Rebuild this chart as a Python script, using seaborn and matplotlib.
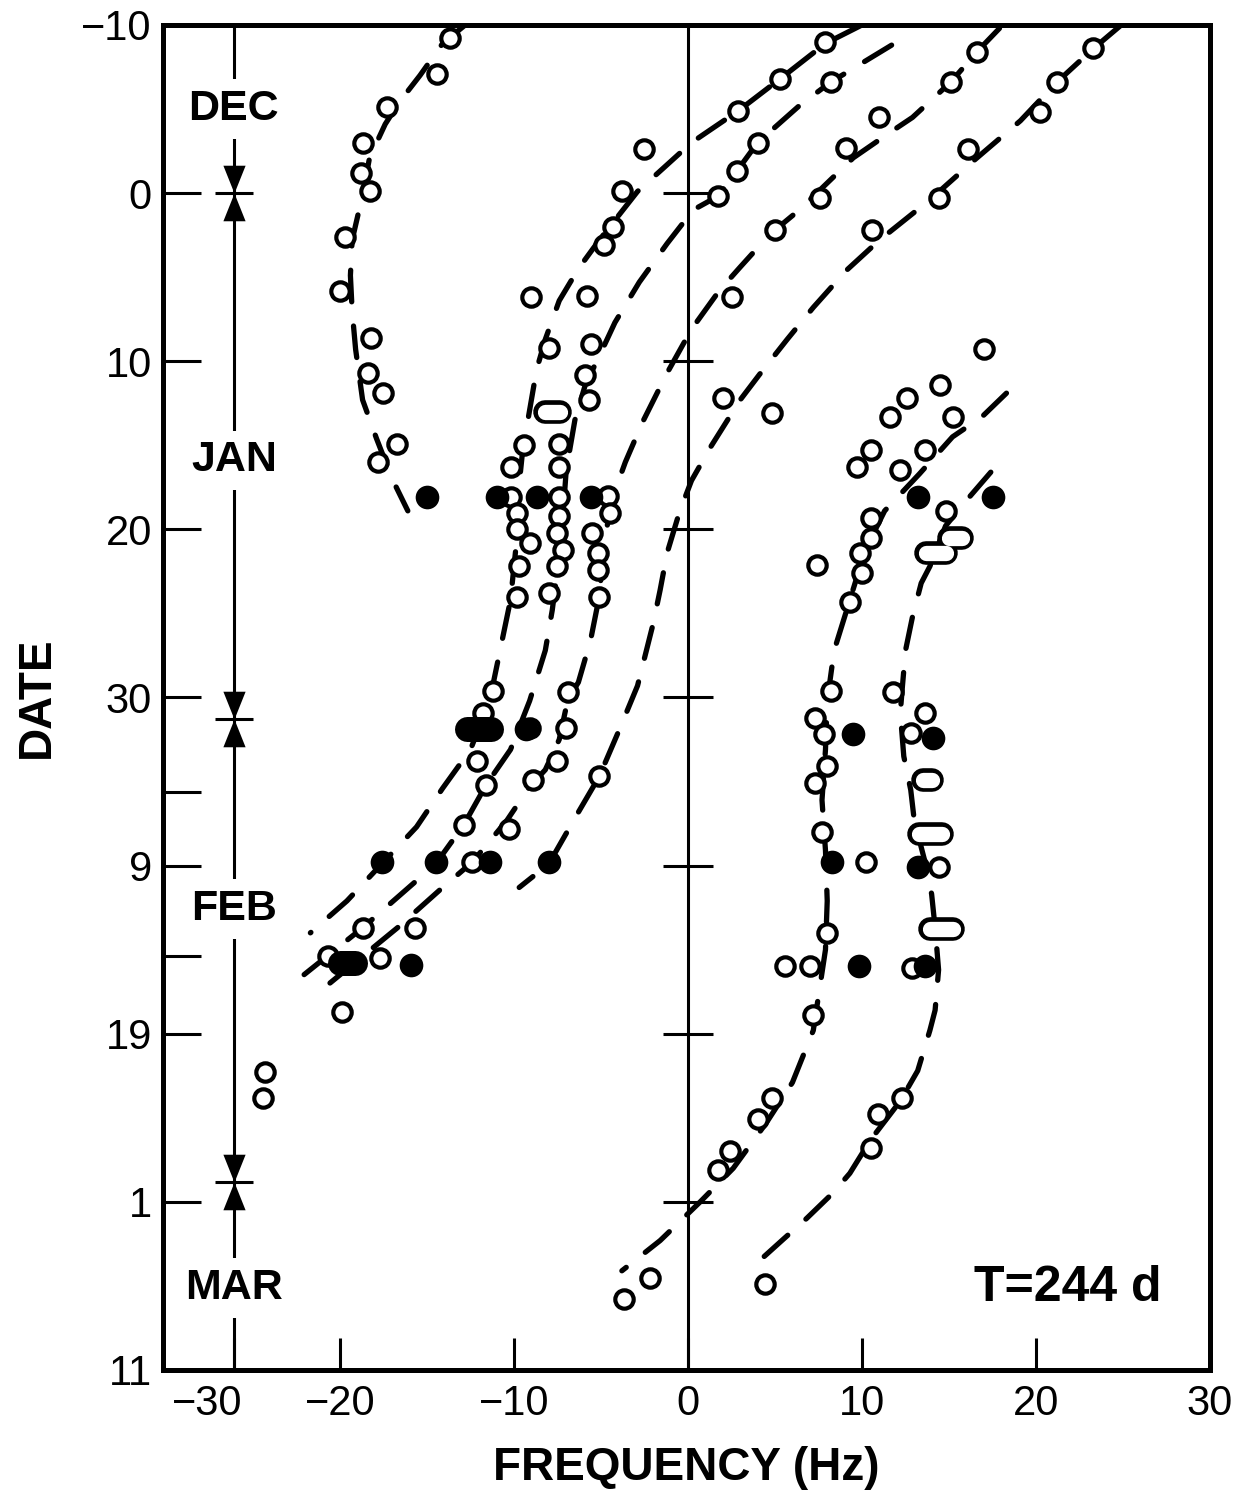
import numpy as np
import pandas as pd
import matplotlib
matplotlib.use("Agg")
import matplotlib.pyplot as plt
import matplotlib.transforms as mtransforms
from matplotlib.path import Path
import seaborn as sns

# ---------------------------------------------------------------------------
# Observations: frequency offset (Hz) versus day (day 0 = Dec 31)
# ---------------------------------------------------------------------------
OPEN_FREQ = [
    # early-winter branch
    -13.7, -14.4, -17.3, -18.7, -18.8, -18.3, -19.7, -20.0, -18.2, -18.4, -17.5, -16.7, -17.8,
    # December tracks right of zero
    7.9, 5.3, 2.9, 8.2, 4.0, 2.8, 1.7, 16.6, 15.1, 11.0, 9.1, 7.6, 5.0, 2.5,
    23.3, 21.2, 20.2, 16.1, 14.4, 10.6,
    # January cluster left of zero
    -2.5, -3.8, -4.3, -4.8, -9.0, -5.8, -8.0, -5.6, -5.9, -5.7, -9.4, -7.4, -10.2, -7.4,
    -10.2, -7.4, -4.6, -4.5, -9.8, -7.4, -9.8, -9.1, -7.5, -7.2, -9.7, -7.5, -9.8, -8.0,
    -5.5, -5.2, -5.2, -5.1,
    # January right of zero
    2.0, 4.8, 17.0, 14.5, 12.6, 11.6, 15.2, 10.5, 13.6, 9.7, 12.2, 14.8, 10.5, 10.5,
    9.9, 10.0, 9.3, 7.4,
    # February right of zero
    8.2, 11.8, 13.6, 12.8, 7.3, 7.8, 8.0, 7.3, 7.7, 10.2, 14.4, 8.0, 5.6, 7.0, 12.9, 7.2,
    # February left of zero
    -11.2, -11.8, -12.1, -11.6, -12.9, -10.3, -12.4, -18.7, -15.7, -20.7, -17.7, -19.9,
    -6.9, -9.1, -7.0, -7.5, -8.9, -5.1,
    # late February / March
    -24.3, -24.4, 4.8, 4.0, 2.4, 1.7, -2.2, -3.7, 4.4, 12.3, 10.9, 10.5,
]
OPEN_DAY = [
    -9.2, -7.1, -5.1, -3.0, -1.2, -0.1, 2.6, 5.8, 8.6, 10.7, 11.9, 14.9, 16.0,
    -9.0, -6.8, -4.9, -6.6, -3.0, -1.3, 0.2, -8.4, -6.6, -4.5, -2.7, 0.3, 2.2, 6.2,
    -8.6, -6.6, -4.8, -2.6, 0.3, 2.2,
    -2.6, -0.1, 2.0, 3.1, 6.2, 6.1, 9.2, 9.0, 10.8, 12.3, 15.0, 14.9, 16.3, 16.3,
    18.1, 18.1, 18.0, 19.0, 19.0, 19.2, 20.0, 20.8, 20.2, 21.2, 22.2, 22.2, 24.0, 23.8,
    20.2, 21.4, 22.4, 24.0,
    12.2, 13.1, 9.3, 11.4, 12.2, 13.3, 13.3, 15.3, 15.3, 16.3, 16.5, 18.9, 19.3, 20.5,
    21.4, 22.6, 24.3, 22.1,
    29.6, 29.7, 30.9, 32.1, 31.2, 32.2, 34.1, 35.1, 38.0, 39.8, 40.1, 44.0, 46.0, 46.0, 46.1, 48.9,
    29.6, 30.9, 33.8, 35.2, 37.6, 37.8, 39.8, 43.7, 43.7, 45.4, 45.5, 48.7,
    29.7, 31.8, 31.8, 33.8, 34.9, 34.7,
    52.3, 53.8, 53.8, 55.1, 57.0, 58.1, 64.5, 65.8, 64.9, 53.8, 54.8, 56.8,
]

FILLED_FREQ = [-15.0, -11.0, -8.7, -5.6, 13.2, 17.5, 9.5, 14.1, -9.3,
               -17.6, -14.5, -11.4, -8.0, 8.3, 13.2, -15.9, 9.8, 13.6]
FILLED_DAY = [18.1, 18.1, 18.1, 18.1, 18.1, 18.1, 32.2, 32.4, 31.9,
              39.8, 39.8, 39.8, 39.8, 39.8, 40.1, 45.9, 46.0, 46.0]

# Smeared detections: day with lowest / highest frequency of the streak
OPEN_BAR_DAY = [13.0, 20.5, 21.4, 34.9, 38.1, 43.8]
OPEN_BAR_LO = [-8.9, 14.3, 13.0, 12.8, 12.6, 13.2]
OPEN_BAR_HI = [-6.7, 16.4, 15.5, 14.7, 15.3, 15.9]
FILLED_BAR_DAY = [31.9, 45.8]
FILLED_BAR_LO = [-13.4, -20.7]
FILLED_BAR_HI = [-10.6, -18.4]

# ---------------------------------------------------------------------------
# Model tracks (dashed)
# ---------------------------------------------------------------------------
TRACK_A_FREQ = [-12.8, -14.1, -15.4, -16.6, -17.4, -18.3, -18.7, -19.3, -19.4, -19.3,
                -19.1, -18.7, -17.9, -17.0, -16.1]
TRACK_A_DAY = [-10.0, -8.9, -7.0, -5.4, -4.1, -2.1, 0.1, 2.8, 4.9, 7.0,
               9.3, 12.3, 14.6, 17.0, 18.9]

TRACK_B_FREQ = [10.0, 7.9, 5.3, 2.9, 0.2, -1.4, -2.9, -5.1, -6.3, -7.4, -8.2, -8.7, -9.1,
                -9.5, -9.8, -9.9, -10.2, -10.8, -11.4, -12.5, -14.1, -15.6, -17.6, -19.6, -21.7]
TRACK_B_DAY = [-10.0, -8.9, -6.8, -4.9, -3.0, -1.5, -0.1, 2.8, 4.5, 6.4, 8.7, 10.5, 12.9,
               15.3, 18.3, 21.2, 24.2, 27.2, 30.2, 33.1, 35.4, 37.7, 39.9, 42.1, 44.0]

TRACK_C_FREQ = [11.7, 8.2, 6.4, 4.0, 2.8, 1.7, 0.3, -1.2, -2.8, -4.2, -5.1, -5.9, -6.5,
                -7.0, -7.2, -7.5, -7.8, -8.2, -9.1, -10.2, -11.6, -12.9, -14.5, -16.6,
                -18.7, -22.2]
TRACK_C_DAY = [-8.8, -6.6, -5.2, -3.0, -1.3, 0.2, 1.0, 3.0, 5.3, 7.7, 9.7, 11.4, 13.5,
               16.5, 19.4, 22.4, 24.8, 27.2, 30.2, 33.1, 35.2, 37.6, 39.9, 41.8, 43.7, 46.6]

TRACK_D_FREQ = [17.9, 16.6, 15.1, 12.9, 11.6, 9.5, 8.2, 6.4, 5.0, 3.7, 3.0, 1.8, 0.2,
                -1.2, -2.6, -3.6, -4.3, -4.8, -5.1, -5.6, -6.3, -6.9, -7.4, -8.2, -9.1,
                -10.4, -12.4, -14.1, -16.7, -21.3]
TRACK_D_DAY = [-9.8, -8.4, -6.6, -4.5, -3.6, -2.1, -0.8, 1.0, 2.2, 3.6, 4.4, 5.8, 8.1,
               10.7, 13.6, 16.0, 18.0, 20.6, 24.0, 26.6, 29.1, 30.1, 32.5, 34.3, 35.3,
               37.3, 39.8, 41.3, 43.7, 47.6]

TRACK_E_FREQ = [24.9, 23.3, 21.2, 19.1, 16.5, 13.9, 11.0, 9.1, 7.2, 5.7, 4.1, 3.0, 1.3,
                0.2, -0.5, -1.2, -1.6, -2.0, -2.9, -3.9, -5.1, -6.4, -8.0, -9.7]
TRACK_E_DAY = [-10.0, -8.6, -6.6, -4.3, -2.0, 0.4, 2.8, 4.6, 6.8, 8.7, 10.8, 12.3, 15.1,
               17.1, 19.0, 21.4, 23.6, 25.6, 29.3, 31.8, 34.7, 37.0, 39.9, 41.3]

TRACK_F_FREQ = [18.3, 16.9, 15.2, 13.3, 11.3, 10.2, 9.3, 8.4, 8.0, 7.9, 7.7, 7.9, 8.0,
                7.9, 7.2, 6.0, 4.5, 2.6, 0.7, -1.6, -3.8]
TRACK_F_DAY = [11.9, 13.3, 14.5, 16.7, 18.9, 21.2, 24.2, 27.2, 30.2, 33.1, 36.1, 39.1,
               42.1, 45.0, 49.8, 52.9, 55.3, 58.0, 60.0, 62.3, 64.1]

TRACK_G_FREQ = [17.4, 15.9, 14.8, 13.9, 13.4, 12.9, 12.5, 12.3, 12.2, 12.4, 12.8, 13.0,
                13.6, 14.0, 14.2, 14.4, 14.2, 13.9, 13.2, 12.2, 10.5, 9.3, 8.3, 6.8, 5.5, 4.0]
TRACK_G_DAY = [16.6, 18.4, 19.8, 22.2, 23.2, 25.2, 27.2, 29.6, 30.9, 33.5, 35.5, 37.3,
               39.7, 41.7, 43.7, 46.2, 48.6, 49.8, 52.2, 54.0, 56.3, 58.3, 59.5, 61.0,
               62.2, 63.6]

TRACKS = {
    "A": (TRACK_A_FREQ, TRACK_A_DAY),
    "B": (TRACK_B_FREQ, TRACK_B_DAY),
    "C": (TRACK_C_FREQ, TRACK_C_DAY),
    "D": (TRACK_D_FREQ, TRACK_D_DAY),
    "E": (TRACK_E_FREQ, TRACK_E_DAY),
    "F": (TRACK_F_FREQ, TRACK_F_DAY),
    "G": (TRACK_G_FREQ, TRACK_G_DAY),
}

# Axis annotation
YTICK_DAY = [-10, 0, 10, 20, 30, 40, 50, 60, 70]
YTICK_LABEL = ["\u221210", "0", "10", "20", "30", "9", "19", "1", "11"]
YMINOR_DAY = [35.6, 45.4]
XTICK_POS = [-26.1, -20, -10, 0, 10, 20, 30]
XTICK_LABEL = ["\u221230", "\u221220", "\u221210", "0", "10", "20", "30"]
CENTER_TICK_DAY = [0, 10, 20, 30, 40, 50, 60]
MONTHS = ["DEC", "JAN", "FEB", "MAR"]
MONTH_LABEL_DAY = [-5.0, 15.9, 42.6, 65.1]
MONTH_BOUNDARY_DAY = [0.0, 31.3, 58.8]
TIMELINE_FREQ = -26.1
PERIOD_TEXT = "T=244 d"

# ---------------------------------------------------------------------------
sns.set_style("white")
plt.rcParams["font.family"] = ["Liberation Sans", "DejaVu Sans"]
plt.rcParams["axes.unicode_minus"] = True
for key in ("text.color", "axes.labelcolor", "xtick.color", "ytick.color",
            "axes.edgecolor"):
    plt.rcParams[key] = "black"

fig = plt.figure(figsize=(12.48, 14.94), dpi=100)
ax = fig.add_axes([0.1306, 0.0830, 0.8390, 0.9003])
ax.set_xlim(-30.17, 30.0)
ax.set_ylim(70, -10)

# dashed model tracks
track_df = pd.concat(
    [pd.DataFrame({"freq": f, "day": d, "track": k}) for k, (f, d) in TRACKS.items()],
    ignore_index=True,
)
n_before = len(ax.lines)
sns.lineplot(data=track_df, x="freq", y="day", units="track", estimator=None,
             sort=False, color="black", linewidth=3.8, legend=False, ax=ax, zorder=2)
for ln in ax.lines[n_before:]:
    ln.set_dashes([6, 4.6])
    ln.set_dash_capstyle("round")
    ln.set_solid_capstyle("round")

# central zero-frequency line with day ticks
ax.axvline(0, color="black", lw=2.2, zorder=1)
ax.plot(np.zeros(len(CENTER_TICK_DAY)), CENTER_TICK_DAY, ls="none", marker="_",
        ms=36, mew=2.2, color="black", zorder=1)

# time line with month names and boundary markers
ax.plot([TIMELINE_FREQ, TIMELINE_FREQ], [70, -10], color="black", lw=2.2, zorder=1)
for name, d in zip(MONTHS, MONTH_LABEL_DAY):
    ax.text(TIMELINE_FREQ, d, name, ha="center", va="center", fontsize=31,
            fontweight="bold", zorder=4,
            bbox=dict(facecolor="white", edgecolor="none", pad=7))
tri_down = Path([(-0.8, -2.0), (0.8, -2.0), (0.0, 0.0), (-0.8, -2.0)],
                [Path.MOVETO, Path.LINETO, Path.LINETO, Path.CLOSEPOLY])
tri_up = Path([(-0.8, 2.0), (0.8, 2.0), (0.0, 0.0), (-0.8, 2.0)],
              [Path.MOVETO, Path.LINETO, Path.LINETO, Path.CLOSEPOLY])
nb = len(MONTH_BOUNDARY_DAY)
ax.plot([TIMELINE_FREQ] * nb, MONTH_BOUNDARY_DAY, ls="none", marker=tri_up,
        ms=40, color="black", mew=0, zorder=3)
ax.plot([TIMELINE_FREQ] * nb, MONTH_BOUNDARY_DAY, ls="none", marker=tri_down,
        ms=40, color="black", mew=0, zorder=3)
ax.plot([TIMELINE_FREQ] * nb, MONTH_BOUNDARY_DAY, ls="none", marker="_",
        ms=28, mew=2.2, color="black", zorder=3)

# observations
open_df = pd.DataFrame({"freq": OPEN_FREQ, "day": OPEN_DAY})
filled_df = pd.DataFrame({"freq": FILLED_FREQ, "day": FILLED_DAY})
sns.scatterplot(data=open_df, x="freq", y="day", s=175, color="white",
                edgecolor="black", linewidth=3.0, ax=ax, zorder=3, legend=False)
sns.scatterplot(data=filled_df, x="freq", y="day", s=290, color="black",
                edgecolor="black", linewidth=0, ax=ax, zorder=3.2, legend=False)

# smeared detections drawn as rounded streaks
fig.canvas.draw()
hz_per_px = 1.0 / (ax.transData.transform((1, 0))[0] - ax.transData.transform((0, 0))[0])
pt_to_px = fig.dpi / 72.0
for d, lo, hi in zip(OPEN_BAR_DAY, OPEN_BAR_LO, OPEN_BAR_HI):
    r = 0.5 * 17.0 * pt_to_px * hz_per_px
    ax.plot([lo + r, hi - r], [d, d], color="black", lw=17.0,
            solid_capstyle="round", zorder=3.4)
    ax.plot([lo + r, hi - r], [d, d], color="white", lw=11.0,
            solid_capstyle="round", zorder=3.5)
for d, lo, hi in zip(FILLED_BAR_DAY, FILLED_BAR_LO, FILLED_BAR_HI):
    r = 0.5 * 18.0 * pt_to_px * hz_per_px
    ax.plot([lo + r, hi - r], [d, d], color="black", lw=18.0,
            solid_capstyle="round", zorder=3.6)

ax.text(21.8, 65.1, PERIOD_TEXT, ha="center", va="center", fontsize=36,
        fontweight="bold")

# axes, ticks and labels
for sp in ax.spines.values():
    sp.set_linewidth(3.6)
    sp.set_color("black")
ax.set_yticks(YTICK_DAY)
ax.set_yticklabels(YTICK_LABEL)
ax.set_yticks(YMINOR_DAY, minor=True)
ax.set_xticks(XTICK_POS)
ax.set_xticklabels(XTICK_LABEL)
ax.tick_params(axis="y", which="both", direction="in", length=27, width=2.2,
               labelsize=30, pad=8, left=True, right=False, colors="black")
ax.tick_params(axis="x", which="both", direction="in", length=23, width=2.2,
               labelsize=30, pad=10, bottom=True, top=False, colors="black")
ax.set_xlabel("FREQUENCY (Hz)", fontsize=33, fontweight="bold", labelpad=16)
ax.set_ylabel("DATE", fontsize=33, fontweight="bold", labelpad=16)

# the leftmost frequency label sits slightly left of its tick
first_label = ax.get_xticklabels()[0]
first_label.set_transform(first_label.get_transform() +
                          mtransforms.ScaledTranslation(-0.27, 0, fig.dpi_scale_trans))

fig.savefig("out.png", dpi=100, facecolor="white")
